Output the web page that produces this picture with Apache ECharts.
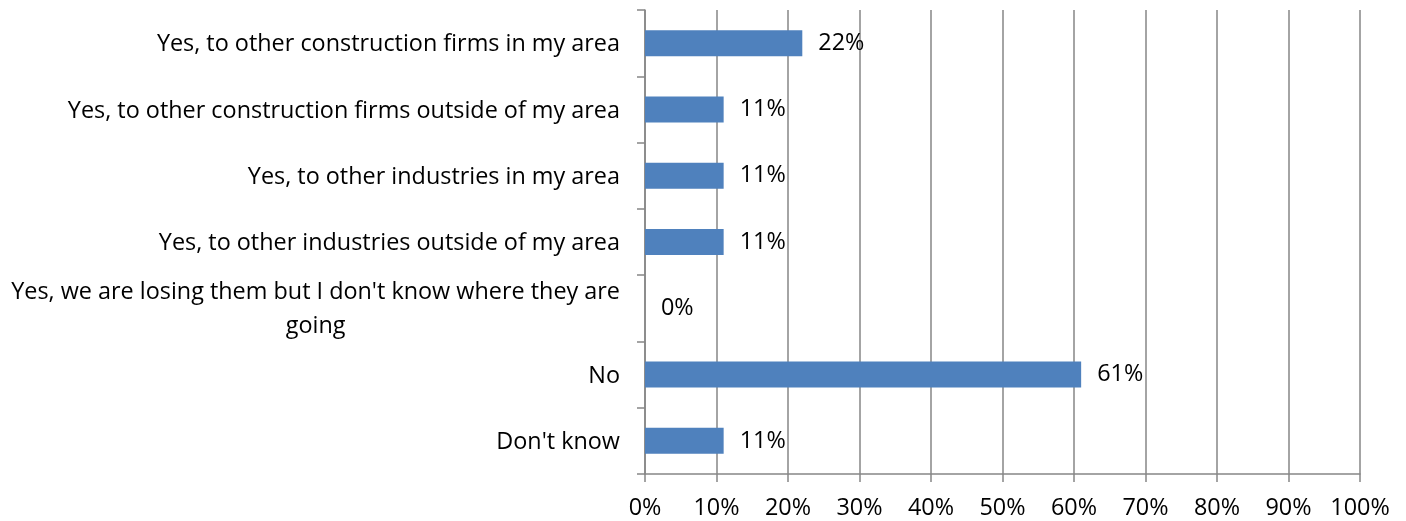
<!DOCTYPE html>
<html>
<head>
<meta charset="utf-8">
<script src="https://cdn.jsdelivr.net/npm/echarts@6/dist/echarts.min.js"></script>
<style>
html,body{margin:0;padding:0;background:#fff;}
#c{width:1406px;height:521px;}
</style>
</head>
<body>
<div id="c"></div>
<script>
const categories = [
  "Yes, to other construction firms in my area",
  "Yes, to other construction firms outside of my area",
  "Yes, to other industries in my area",
  "Yes, to other industries outside of my area",
  "Yes, we are losing them but I don't know where they are\ngoing",
  "No",
  "Don't know"
];
const values = [22, 11, 11, 11, 0, 61, 11];
const xTicks = [0, 10, 20, 30, 40, 50, 60, 70, 80, 90, 100];

const FONT = "'Open Sans', sans-serif";
const FS = 23.4;
const chart = echarts.init(document.getElementById('c'), null, {renderer: 'canvas'});
chart.setOption({
  animation: false,
  grid: {left: 645, right: 46, top: 10, bottom: 47, containLabel: false},
  xAxis: {
    type: 'value', min: 0, max: 100, interval: 10,
    axisLine: {show: true, lineStyle: {color: '#868686', width: 1.5}},
    axisTick: {show: true, length: 8, lineStyle: {color: '#868686', width: 1.5}},
    splitLine: {show: true, lineStyle: {color: '#868686', width: 1.5}},
    axisLabel: {color: '#000', fontFamily: FONT, fontSize: FS, margin: 23,
      formatter: v => xTicks.includes(v) ? v + '%' : ''}
  },
  yAxis: {
    type: 'category', data: categories, inverse: true,
    axisLine: {show: true, lineStyle: {color: '#868686', width: 1.5}},
    axisTick: {show: true, length: 8, lineStyle: {color: '#868686', width: 1.5}},
    axisLabel: {
      color: '#000', fontFamily: FONT, fontSize: FS, margin: 25, lineHeight: 34,
      padding: [3, 0, 0, 0],
      formatter: v => v.split('\n').map(s => '{c|' + s + '}').join('\n'),
      rich: {c: {align: 'center', fontFamily: FONT, fontSize: FS, color: '#000', lineHeight: 34}}
    }
  },
  series: [{
    type: 'bar', data: values, barWidth: 26,
    itemStyle: {color: '#4F81BD', borderWidth: 0},
    label: {show: true, position: 'right', distance: 16, color: '#000',
      fontFamily: FONT, fontSize: FS, formatter: p => p.value + '%'}
  }]
});
</script>
</body>
</html>
